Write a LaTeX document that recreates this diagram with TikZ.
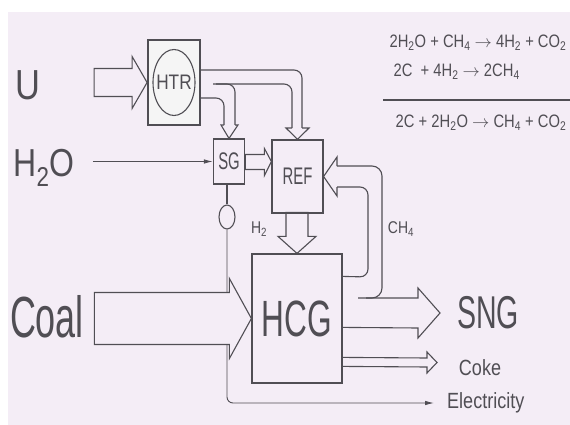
\documentclass[tikz,border=0pt]{standalone}
\usepackage{fontspec}
\setmainfont{Liberation Sans}
\newfontfamily\dfont{Liberation Sans}[FakeStretch=0.62]
\newfontfamily\lfont{Liberation Sans}[FakeStretch=0.82]
\usetikzlibrary{
    shapes.geometric,
    arrows.meta, positioning, calc
}
\definecolor{paper}{RGB}{244,237,246}
\definecolor{ink}{RGB}{80,78,84}
\tikzset{
  unit/.style={rectangle, draw=ink, line width=1.2pt, fill=paper,
               inner sep=0pt, text=ink},
  valvebox/.style={ellipse, draw=ink, line width=1.1pt, inner sep=0pt,
                   minimum width=16pt, minimum height=24pt},
  big/.style={text=ink, inner sep=0pt},
  blk/.style={draw=ink, line width=1.1pt, line join=miter},
  pipe/.style={draw=ink, line width=1.1pt, rounded corners=8pt},
  feed/.style={draw=ink, line width=0.9pt, -{Latex[length=9pt,width=4.5pt]}},
}

\begin{document}
\begin{tikzpicture}[x=1pt, y=-1pt]
  \fill[white] (0,0) rectangle (570,425);
  \fill[paper] (8,12) rectangle (570,425);
  \useasboundingbox (0,0) rectangle (570,425);

  % process units
  \node[unit, line width=1.8pt, fill=black!4, minimum width=52pt, minimum height=85pt] (htr) at (174,82.5) {};
  \draw[ink, line width=1.1pt] (htr.center) ellipse (21 and 33);
  \node[big, font=\lfont\fontsize{21}{21}\selectfont] (htrlbl) at (htr.center) {HTR};
  \node[unit, minimum width=31pt, minimum height=45pt, font=\dfont\fontsize{24}{24}\selectfont] (sg) at (229,161.5) {SG};
  \node[unit, minimum width=51pt, minimum height=73pt, font=\dfont\fontsize{24}{24}\selectfont] (ref) at (297.5,176.5) {REF};
  \node[unit, minimum width=90pt, minimum height=129pt, font=\dfont\fontsize{51}{51}\selectfont] (hcg) at (297,318.5) {HCG};
  \node[valvebox] (valve) at (227,217) {};

  % stream labels
  \node[big, font=\lfont\fontsize{42}{42}\selectfont] (u) at (28,85) {U};
  \node[big, font=\lfont\fontsize{39}{39}\selectfont] (h2o) at (44,168) {H\textsubscript{2}O};
  \node[big, font=\dfont\fontsize{58}{58}\selectfont] (coal) at (47,317) {Coal};
  \node[big, font=\dfont\fontsize{46}{46}\selectfont] (sng) at (488,313) {SNG};
  \node[big, font=\lfont\fontsize{22}{22}\selectfont] (coke) at (480,368) {Coke};
  \node[big, font=\lfont\fontsize{22}{22}\selectfont, anchor=west] (elec) at (447,403) {Electricity};
  \node[big, font=\lfont\fontsize{17}{17}\selectfont] (h2) at (259,229) {H\textsubscript{2}};
  \node[big, font=\lfont\fontsize{17}{17}\selectfont] (ch4) at (401,229) {CH\textsubscript{4}};
  \coordinate (sngtip) at (440,313);
  \coordinate (coketip) at (437,362.5);

  % reactions
  \node[big, font=\lfont\fontsize{18}{18}\selectfont] (eqa) at (478,43) {2H\textsubscript{2}O + CH\textsubscript{4} $\rightarrow$ 4H\textsubscript{2} + CO\textsubscript{2}};
  \node[big, font=\lfont\fontsize{18}{18}\selectfont, anchor=west] (eqb) at (eqa.west |- 0,72) {\hspace{4pt}2C \ + 4H\textsubscript{2} $\rightarrow$ 2CH\textsubscript{4}};
  \node[big, font=\lfont\fontsize{18}{18}\selectfont] (eqc) at (481,123) {2C + 2H\textsubscript{2}O $\rightarrow$ CH\textsubscript{4} + CO\textsubscript{2}};
  \draw[ink, line width=1.1pt] (383,100) -- (570,100);

  % feeds
  \draw[feed, rounded corners=6pt, shorten >=13pt] (valve.south) |- (elec.west);
  \draw[ink, line width=1.6pt] (valve.north) -- (valve.north |- sg.south);
  \draw[feed] ($(sg.west)+(-120,0)$) -- (sg.west);
  \draw[blk] (htr.west) -- ++(-15,-26) -- ++(0,12) -- ++(-38,0) -- ++(0,28) -- ++(38,0) -- ++(0,12) -- cycle;
  \draw[blk, fill=paper] (hcg.west) -- ++(-22,-40) -- ++(0,14) -- ++(-135,0) -- ++(0,52) -- ++(135,0) -- ++(0,14) -- cycle;

  % HTR heat to SG and REF
  \draw[pipe] ($(htr.east)+(0,-12.5)$) -- (302,70) -- (302,128);
  \draw[pipe] (213,84) -- (292,84) -- (292,128);
  \draw[pipe] ($(htr.east)+(0,15.5)$) -- (224,98) -- (224,125);
  \draw[pipe] (216,84) -- (235,84) -- (235,125);
  \draw[blk] (224,125) -- (221,125) -- (sg.north) -- (238,125) -- (235,125);
  \draw[blk] (292,128) -- (286,128) -- (ref.north) -- (309,128) -- (302,128);

  % SG steam, H2
  \draw[blk] (sg.east -| ref.west) -- ++(-7,-13) -- ++(0,6) -- ++(-19,0) -- ++(0,15) -- ++(19,0) -- ++(0,6) -- cycle;
  \draw[blk] (hcg.north) -- ++(-19,-17) -- ++(8,0) -- ++(0,-24) -- ++(22,0) -- ++(0,24) -- ++(8,0) -- cycle;

  % CH4 recycle
  \draw[blk] (337,166) -- (337,157) -- (ref.east) -- (337,196) -- (337,187);
  \draw[pipe, rounded corners=10pt] (337,166) -- (382,166) -- (382,298) -- (366,298);
  \draw[pipe] (337,187) -- (368,187) -- (368,277) -- ($(hcg.north east)+(0,23)$);

  % products
  \draw[blk] (358,298) -- (418,298) -- (418,288) -- (sngtip) -- (418,338) -- (418,328) -- ($(hcg.north east)+(0,74)$);
  \draw[blk] ($(hcg.north east)+(0,104)$) -- (427,358) -- (427,352) -- (coketip) -- (427,373) -- (427,367) -- ($(hcg.north east)+(0,113)$);
\end{tikzpicture}
\end{document}
